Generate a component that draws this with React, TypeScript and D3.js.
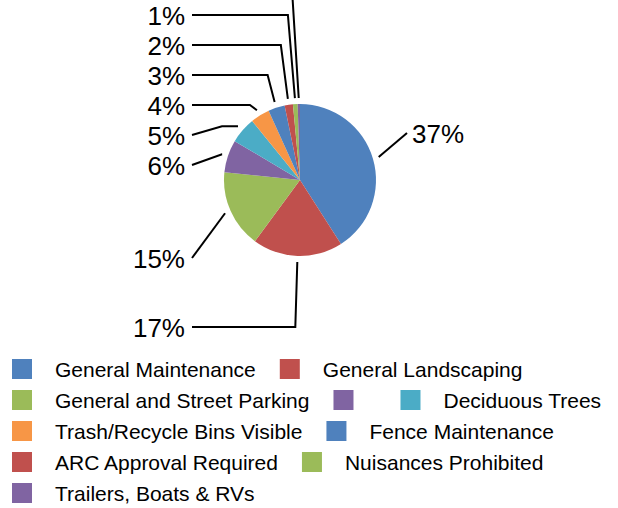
import React, { useEffect, useRef } from 'react';
import * as d3 from 'd3';

// categories in legend order (slice order, clockwise from 12 o'clock)
const CATEGORIES = [
  'General Maintenance',
  'General Landscaping',
  'General and Street Parking',
  '',
  'Deciduous Trees',
  'Trash/Recycle Bins Visible',
  'Fence Maintenance',
  'ARC Approval Required',
  'Nuisances Prohibited',
  'Trailers, Boats & RVs',
];
// share of all violations (%), the slices are drawn from these
const SHARES = [37.2, 17.4, 15.0, 6.3, 5.1, 3.7, 3.2, 1.6, 0.9, 0.45];
const PALETTE = ['#4F81BD', '#C0504D', '#9BBB59', '#8064A2', '#4BACC6', '#F79646'];

const W = 618;
const H = 508;
const CX = 300;
const CY = 180;
const R = 76;
const FONT = '"Liberation Sans", Arial, Helvetica, sans-serif';

type Spot = { side: 'left' | 'right'; y: number; kind: 'straight' | 'elbowH' | 'elbowD'; dx?: number };

// Excel-ish label placement: big slices get their own spot, small ones stack up on the left
function labelSpot(i: number): Spot {
  if (i === 0) return { side: 'right', y: CY - 47, kind: 'straight' };
  if (i === 1) return { side: 'left', y: CY + 147, kind: 'elbowH', dx: 2 };
  if (i === 2) return { side: 'left', y: CY + 78, kind: 'straight' };
  const y = CY - 15 - 30 * (i - 3);
  if (i <= 4) return { side: 'left', y, kind: 'elbowD' };
  return { side: 'left', y, kind: 'elbowH', dx: 7 };
}

const PieChart = () => {
  const ref = useRef<SVGSVGElement | null>(null);

  useEffect(() => {
    const svg = d3.select(ref.current);
    svg.selectAll('*').remove();

    const color = (i: number) => PALETTE[i % PALETTE.length];
    const arcs = d3.pie<number>().value(d => d).sort(null)(SHARES);
    const arc = d3.arc<d3.PieArcDatum<number>>().innerRadius(0).outerRadius(R);

    const g = svg.append('g').attr('transform', `translate(${CX},${CY})`);
    g.selectAll('path')
      .data(arcs)
      .enter()
      .append('path')
      .attr('d', arc)
      .attr('fill', (_, i) => color(i));

    // leader lines + labels
    const textEndX = CX - 115;
    const lineStartX = CX - 108;
    arcs.forEach((a, i) => {
      const mid = (a.startAngle + a.endAngle) / 2;
      const ax = CX + (R + 6) * Math.sin(mid);
      const ay = CY - (R + 6) * Math.cos(mid);
      const s = labelSpot(i);
      const p = d3.path();
      let tx: number;
      let anchor: string;
      if (s.side === 'right') {
        const ex = CX + 107;
        p.moveTo(ax, ay);
        p.lineTo(ex, s.y);
        tx = ex + 5;
        anchor = 'start';
      } else {
        p.moveTo(lineStartX, s.y);
        if (s.kind === 'elbowH') {
          p.lineTo(ax - (s.dx || 0), s.y);
        } else if (s.kind === 'elbowD') {
          p.lineTo(lineStartX + 30, ay);
        }
        p.lineTo(ax, ay);
        tx = textEndX;
        anchor = 'end';
      }
      svg.append('path')
        .attr('d', p.toString())
        .attr('fill', 'none')
        .attr('stroke', '#000')
        .attr('stroke-width', 2);
      // the top-most label sits above the chart area and is clipped away, as in the original
      if (s.y < 0) return;
      svg.append('text')
        .attr('x', tx)
        .attr('y', s.y + 9.5)
        .attr('text-anchor', anchor)
        .style('font-family', FONT)
        .style('font-size', '26px')
        .attr('fill', '#000')
        .text(`${Math.round(SHARES[i])}%`);
    });

    // legend, flowing left to right and wrapping like Excel does
    const legend = svg.append('g');
    const rowH = 31;
    const sq = 20;
    let x = 12;
    let row = 0;
    CATEGORIES.forEach((name, i) => {
      const t = legend.append('text')
        .style('font-family', FONT)
        .style('font-size', '21px')
        .attr('fill', '#000')
        .text(name);
      const w = name ? (t.node() as SVGTextElement).getComputedTextLength() : 0;
      if (x > 12 && x + sq + 23 + w > W) {
        row += 1;
        x = 12;
      }
      const cy = 369 + row * rowH;
      legend.append('rect')
        .attr('x', x)
        .attr('y', cy - sq / 2)
        .attr('width', sq)
        .attr('height', sq)
        .attr('fill', color(i));
      t.attr('x', x + sq + 23).attr('y', cy + 7.5);
      x = x + sq + 23 + w + 24;
    });
  }, []);

  return <svg ref={ref} width={W} height={H} style={{ display: 'block' }} />;
};

export default function App() {
  return (
    <div style={{ position: 'absolute', left: 0, top: 0, width: W, height: H, background: '#fff' }}>
      <PieChart />
    </div>
  );
}
